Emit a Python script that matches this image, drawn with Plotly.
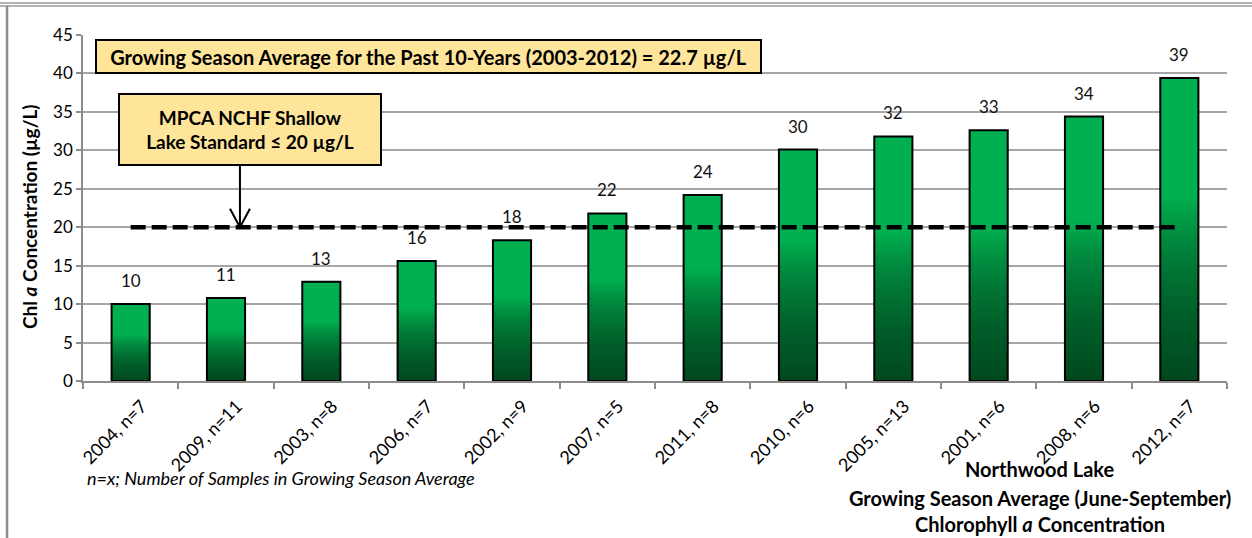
import plotly.graph_objects as go

categories = ["2004, n=7", "2009, n=11", "2003, n=8", "2006, n=7", "2002, n=9", "2007, n=5",
              "2011, n=8", "2010, n=6", "2005, n=13", "2001, n=6", "2008, n=6", "2012, n=7"]
chl_a = [10.0, 10.8, 12.9, 15.6, 18.3, 21.8, 24.2, 30.1, 31.8, 32.6, 34.4, 39.4]
bar_labels = ["10", "11", "13", "16", "18", "22", "24", "30", "32", "33", "34", "39"]
standard = [20] * len(categories)

FONT = "Lato"
BRIGHT = "#00B050"
fig = go.Figure()

# base bright bars
fig.add_trace(go.Bar(x=categories, y=chl_a, width=0.4, marker=dict(color=BRIGHT, line=dict(width=0)),
                     hoverinfo="skip", showlegend=False))
# gradient layers darkening toward the bottom of each bar
N = 30
for k in range(1, N + 1):
    frac = 0.6 * k / N
    fig.add_trace(go.Bar(x=categories, y=[v * frac for v in chl_a], width=0.4,
                         marker=dict(color="rgba(0,45,20,0.044)", line=dict(width=0)),
                         hoverinfo="skip", showlegend=False))
# outline
fig.add_trace(go.Bar(x=categories, y=chl_a, width=0.4,
                     marker=dict(color="rgba(0,0,0,0)", line=dict(color="black", width=2)),
                     showlegend=False))
# standard line
fig.add_trace(go.Scatter(x=categories, y=standard, mode="lines",
                         line=dict(color="black", width=4.5, dash="15px,6px"),
                         hoverinfo="skip", showlegend=False))

annotations = []
for c, v, t in zip(categories, chl_a, bar_labels):
    annotations.append(dict(x=c, y=v, xref="x", yref="y", text=t, showarrow=False,
                            xanchor="center", yanchor="bottom", yshift=11,
                            font=dict(family=FONT, size=17, color="#111")))

annotations += [
    dict(xref="paper", yref="paper", x=0.302, y=0.938, xanchor="center", yanchor="middle",
         text="<b>Growing Season Average for the Past 10-Years (2003-2012) = 22.7 µg/L</b>",
         showarrow=False, bgcolor="#FEE59A", bordercolor="black", borderwidth=2, borderpad=0,
         width=663, height=31, font=dict(family=FONT, size=20, color="black")),
    dict(xref="paper", yref="paper", x=0.146, y=0.727, xanchor="center", yanchor="middle",
         text="<b>MPCA NCHF Shallow<br>Lake Standard ≤ 20 µg/L</b>",
         showarrow=False, bgcolor="#FEE59A", bordercolor="black", borderwidth=2, borderpad=0,
         width=260, height=69, font=dict(family=FONT, size=19, color="black")),
    dict(xref="paper", yref="paper", x=-0.0463, y=0.474, xanchor="center", yanchor="middle",
         textangle=-90,
         text="<b>Chl <i>a</i> Concentration (µg/L)</b>", showarrow=False,
         font=dict(family=FONT, size=19, color="black")),
    dict(xref="paper", yref="paper", x=0.002, y=-0.280, xanchor="left", yanchor="middle",
         text="<i>n=x; Number of Samples in Growing Season Average</i>", showarrow=False,
         font=dict(family=FONT, size=18, color="black")),
    dict(xref="paper", yref="paper", x=0.8365, y=-0.254, xanchor="center", yanchor="middle",
         text="<b>Northwood Lake</b>", showarrow=False, font=dict(family=FONT, size=20, color="black")),
    dict(xref="paper", yref="paper", x=0.8365, y=-0.338, xanchor="center", yanchor="middle",
         text="<b>Growing Season Average (June-September)</b>", showarrow=False,
         font=dict(family=FONT, size=20, color="black")),
    dict(xref="paper", yref="paper", x=0.8365, y=-0.413, xanchor="center", yanchor="middle",
         text="<b>Chlorophyll <i>a</i> Concentration</b>", showarrow=False,
         font=dict(family=FONT, size=20, color="black")),
]

ax_x = 0.1372
shapes = [
    dict(type="line", xref="paper", yref="y", x0=ax_x, x1=ax_x, y0=27.96, y1=20.1,
         line=dict(color="black", width=2)),
    dict(type="line", xref="paper", yref="y", x0=ax_x - 0.0087, x1=ax_x, y0=22.4, y1=20.0,
         line=dict(color="black", width=2)),
    dict(type="line", xref="paper", yref="y", x0=ax_x + 0.0087, x1=ax_x, y0=22.4, y1=20.0,
         line=dict(color="black", width=2)),
    # outer chart frame
    dict(type="line", xref="paper", yref="paper", x0=-0.08, x1=1.03, y0=1.0925, y1=1.0925,
         line=dict(color="#9a9a9a", width=1.5)),
    dict(type="line", xref="paper", yref="paper", x0=-0.08, x1=1.03, y0=1.0838, y1=1.0838,
         line=dict(color="#9a9a9a", width=1.5)),
    dict(type="line", xref="paper", yref="paper", x0=-0.0664, x1=-0.0664, y0=1.0838, y1=-0.47,
         line=dict(color="#8c8c8c", width=2.5)),
]

fig.update_layout(
    width=1252, height=538,
    margin=dict(l=83, r=25, t=35, b=157),
    barmode="overlay",
    plot_bgcolor="white", paper_bgcolor="white",
    font=dict(family=FONT, size=14, color="black"),
    annotations=annotations, shapes=shapes,
    xaxis=dict(type="category", tickson="boundaries", ticks="outside", ticklen=6,
               tickcolor="#8c8c8c", tickwidth=1.5, showline=True, linecolor="#8c8c8c", linewidth=1.5,
               tickangle=-45, tickfont=dict(family=FONT, size=18, color="black"),
               ticklabelstandoff=6, ticklabelshift=11,
               showgrid=False, range=[-0.5, 11.5]),
    yaxis=dict(range=[0, 45], dtick=5, ticks="outside", ticklen=5, tickcolor="#8c8c8c",
               tickwidth=1.5, showline=True, linecolor="#8c8c8c", linewidth=1.5,
               gridcolor="#a6a6a6", gridwidth=1.5, zeroline=False,
               tickfont=dict(family=FONT, size=17, color="black")),
)

fig.write_html("out.html", config={"displayModeBar": False},
               post_script="document.body.style.margin='0';")
